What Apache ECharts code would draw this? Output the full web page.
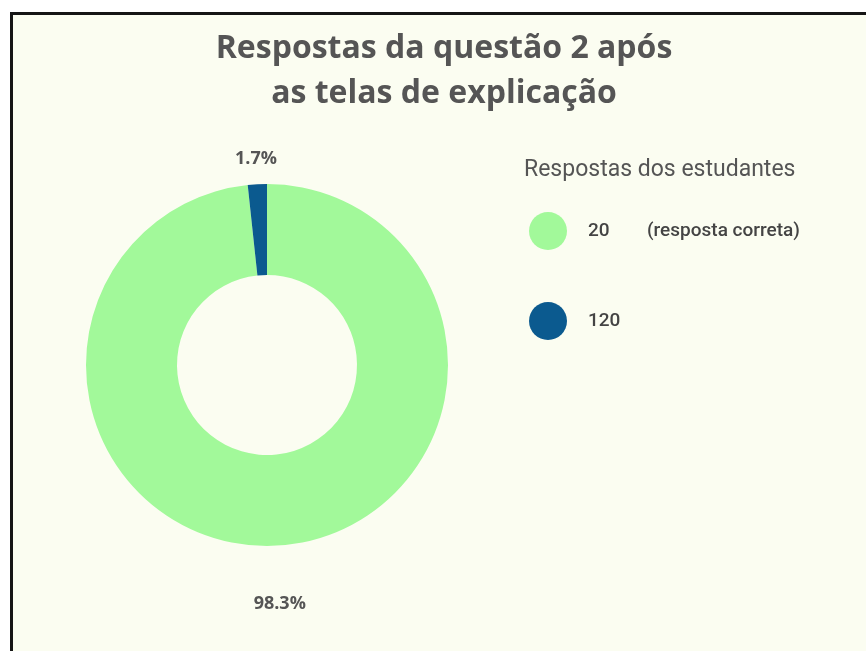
<!DOCTYPE html>
<html>
<head>
<meta charset="utf-8">
<script src="https://cdn.jsdelivr.net/npm/echarts@6/dist/echarts.min.js"></script>
<style>
html,body{margin:0;padding:0;background:#ffffff;overflow:hidden;width:866px;height:651px;}
#frame{position:absolute;left:10px;top:12px;width:900px;height:700px;border:3px solid #151515;background:#fbfdf1;}
#c{position:absolute;left:0;top:0;width:866px;height:651px;}
</style>
</head>
<body>
<div id="frame"></div>
<div id="c"></div>
<script>
const chartTitle = 'Respostas da questão 2 após\nas telas de explicação';
const legendTitle = 'Respostas dos estudantes';
const categories = ['20', '120'];
const categoryNotes = ['(resposta correta)', ''];
const percentages = [98.3, 1.7];
const colors = ['#a2f99a', '#0b5a8f'];
const labelLineLengths = [58, 25];

const chart = echarts.init(document.getElementById('c'), null, {renderer: 'canvas'});
const noteByName = {};
categories.forEach((c, i) => noteByName[c] = categoryNotes[i]);

chart.setOption({
  backgroundColor: 'transparent',
  animation: false,
  title: [
    {
      text: chartTitle,
      left: 444,
      textAlign: 'center',
      top: 26,
      padding: 0,
      textStyle: {fontFamily: 'Open Sans', fontWeight: 'bold', fontSize: 32, lineHeight: 45, color: '#555555'}
    },
    {
      text: legendTitle,
      left: 524,
      top: 159,
      padding: 0,
      textStyle: {fontFamily: 'Roboto', fontWeight: 'normal', fontSize: 23, color: '#555555'}
    }
  ],
  legend: {
    orient: 'vertical',
    left: 529,
    top: 212,
    padding: 0,
    icon: 'circle',
    itemWidth: 38,
    itemHeight: 38,
    itemGap: 52,
    data: categories,
    formatter: function (name) {
      const note = noteByName[name];
      return '{s|}{a|' + name + '}' + (note ? '{b|' + note + '}' : '');
    },
    textStyle: {
      rich: {
        s: {width: 16},
        a: {width: 59, fontFamily: 'Roboto', fontWeight: 500, fontSize: 19, color: '#444444'},
        b: {fontFamily: 'Roboto', fontWeight: 500, fontSize: 19, color: '#444444'}
      }
    }
  },
  series: [{
    type: 'pie',
    center: [267, 365],
    radius: [90, 181],
    startAngle: 90,
    clockwise: true,
    avoidLabelOverlap: false,
    label: {
      show: true,
      position: 'outside',
      formatter: '{c}%',
      distanceToLabelLine: 0,
      fontFamily: 'Open Sans',
      fontWeight: 'bold',
      fontSize: 18,
      color: '#555555'
    },
    labelLayout: {align: 'center', verticalAlign: 'middle'},
    labelLine: {show: false, length2: 0},
    emphasis: {disabled: true},
    data: categories.map((c, i) => ({
      name: c,
      value: percentages[i],
      itemStyle: {color: colors[i]},
      labelLine: {show: false, length: labelLineLengths[i], length2: 0}
    }))
  }]
});
</script>
</body>
</html>
